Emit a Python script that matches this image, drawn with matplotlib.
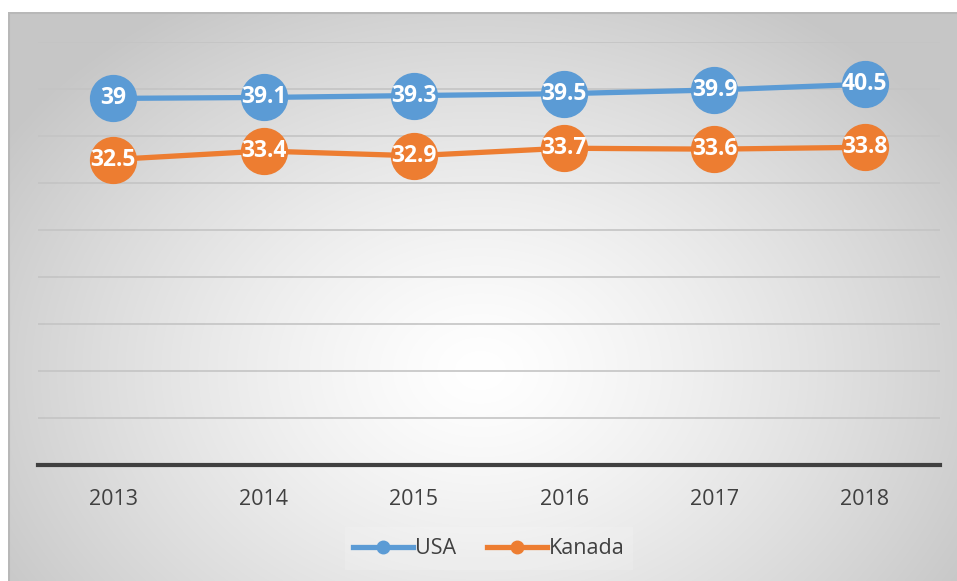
import numpy as np
import matplotlib
matplotlib.use("Agg")
import matplotlib.pyplot as plt
from matplotlib.lines import Line2D

years = ["2013", "2014", "2015", "2016", "2017", "2018"]
usa = [39, 39.1, 39.3, 39.5, 39.9, 40.5]
kanada = [32.5, 33.4, 32.9, 33.7, 33.6, 33.8]
series_names = ["USA", "Kanada"]

W, H = 957, 581
fig = plt.figure(figsize=(W / 100, H / 100), dpi=100)
fig.patch.set_facecolor("white")

# background panel with radial gradient
bx0, by_top = 8, 12
bg = fig.add_axes([bx0 / W, 0, 1 - bx0 / W, 1 - by_top / H])
bg.set_axis_off()
ny, nx = H - by_top, W - bx0
yy, xx = np.mgrid[0:ny, 0:nx]
cx, cy = 480 - bx0, 370 - by_top
r = np.sqrt(((xx - cx) / 560.0) ** 2 + ((yy - cy) / 430.0) ** 2)
r = np.clip(r, 0, 1)
val = 1.0 - 0.22 * r ** 1.3
img = np.dstack([val, val, val])
bg.imshow(img, aspect="auto", extent=[0, 1, 0, 1], interpolation="bilinear")
bg.set_xlim(0, 1); bg.set_ylim(0, 1)
bg.plot([0, 1], [0.999, 0.999], color="#b8b8b8", lw=1.5, transform=bg.transAxes)
bg.plot([0.001, 0.001], [0, 1], color="#b8b8b8", lw=1.5, transform=bg.transAxes)

left, right = 38 / W, 940 / W
bottom, top = 1 - 465 / H, 1 - 42 / H
ax = fig.add_axes([left, bottom, right - left, top - bottom])
ax.patch.set_alpha(0)
x = np.arange(len(years))
ax.set_xlim(-0.5, len(years) - 0.5)
ax.set_ylim(0, 45)
ax.set_yticks(np.arange(5, 46, 5))
ax.yaxis.grid(True, color="#c4c4c4", lw=1.2)
ax.set_axisbelow(True)
for s in ["top", "right", "left"]:
    ax.spines[s].set_visible(False)
ax.spines["bottom"].set_color("#404040")
ax.spines["bottom"].set_linewidth(3)
ax.tick_params(axis="y", left=False, labelleft=False)
ax.tick_params(axis="x", length=0, pad=17, labelsize=15.5, labelcolor="#404040")
ax.set_xticks(x)
ax.set_xticklabels(years, family="Open Sans")

blue = "#5b9bd5"
orange = "#ed7d31"
for vals, col in [(usa, blue), (kanada, orange)]:
    ax.plot(x, vals, color=col, lw=3.8, marker="o", ms=33, mec=col, mfc=col, zorder=3, clip_on=False)
    for xi, v in zip(x, vals):
        ax.text(xi, v, f"{v:g}", ha="center", va="center", color="white",
                fontsize=16.5, fontweight="bold", family="Open Sans", zorder=4)

lg = fig.add_axes([0, 0, 1, 1])
lg.set_axis_off()
lg.set_xlim(0, W); lg.set_ylim(H, 0)
lg.add_patch(plt.Rectangle((345, 527), 288, 43, color="white", alpha=0.15, lw=0))
handles = [Line2D([0], [0], color=blue, lw=3.8, marker="o", ms=9),
           Line2D([0], [0], color=orange, lw=3.8, marker="o", ms=9)]
leg = fig.legend(handles, series_names, loc="center", bbox_to_anchor=(489 / W, 1 - 549 / H),
                 ncol=2, frameon=False, handlelength=2.8, handletextpad=0.1,
                 columnspacing=1.4, prop={"family": "Open Sans", "size": 15.5})
for t in leg.get_texts():
    t.set_color("#404040")

fig.savefig("out.png", dpi=100)
